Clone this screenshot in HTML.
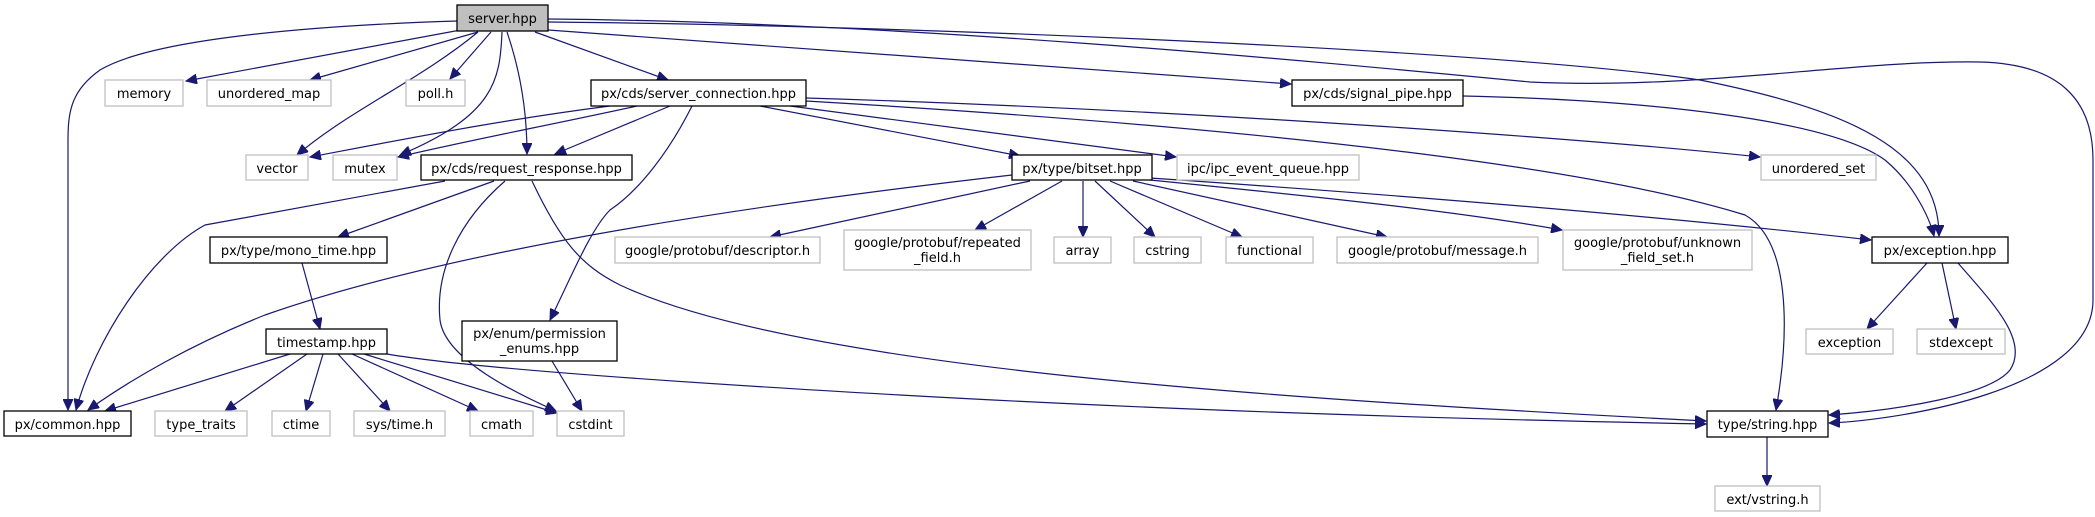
<!DOCTYPE html>
<html><head><meta charset="utf-8"><style>
html,body{margin:0;padding:0;background:#fff;}
svg{display:block;}
text{font-family:"DejaVu Sans","Liberation Sans",sans-serif;font-size:13px;fill:#000;}
.b{fill:#fff;stroke:#000;stroke-width:1.3;}
.g{fill:#fff;stroke:#bfbfbf;stroke-width:1.3;}
.e{fill:none;stroke:#191970;stroke-width:1.2;marker-end:url(#a);}
</style></head><body>
<svg width="2095" height="517" viewBox="0 0 2095 517" xmlns="http://www.w3.org/2000/svg">
<defs><marker id="a" markerUnits="userSpaceOnUse" markerWidth="12" markerHeight="10" refX="11" refY="5" orient="auto"><path d="M0,0 L11,5 L0,10 z" fill="#191970" stroke="#191970"/></marker></defs>
<g>
<path class="e" d="M457,21 C300,26 150,40 100,70 C72,90 68,110 68,140 L68,410"/>
<path class="e" d="M466,29 L186,81"/>
<path class="e" d="M478,32 L310,80"/>
<path class="e" d="M478,32 C420,80 350,110 297,155"/>
<path class="e" d="M491,32 L450,79"/>
<path class="e" d="M502,32 C500,80 495,115 400,155"/>
<path class="e" d="M507,32 C520,70 527,110 527,154"/>
<path class="e" d="M535,32 L668,80"/>
<path class="e" d="M548,30 L1291,84"/>
<path class="e" d="M548,22 C900,25 1500,50 1700,80 C1850,110 1939,150 1939,236"/>
<path class="e" d="M548,19 C900,22 1300,60 1530,82 C1700,90 1850,60 1980,62 C2060,64 2093,100 2093,160 L2093,300 C2093,390 1900,420 1829,423"/>
<path class="e" d="M1463,96 C1650,100 1830,120 1885,160 C1915,185 1930,220 1934,236"/>
<path class="e" d="M610,106 C500,120 400,140 310,157"/>
<path class="e" d="M637,106 C550,125 470,140 398,157"/>
<path class="e" d="M670,106 L555,154"/>
<path class="e" d="M692,106 C670,150 640,190 610,210 C590,230 570,280 550,320"/>
<path class="e" d="M760,106 L1020,156"/>
<path class="e" d="M790,106 L1176,157"/>
<path class="e" d="M806,98 C1200,110 1600,140 1760,157"/>
<path class="e" d="M806,101 C1300,130 1600,170 1745,215 C1790,240 1790,330 1776,410"/>
<path class="e" d="M445,181 L205,225 C150,255 95,340 76,410"/>
<path class="e" d="M494,181 L338,237"/>
<path class="e" d="M505,181 C460,220 435,270 440,320 C445,360 520,395 556,411"/>
<path class="e" d="M532,181 C560,240 580,265 620,285 C800,370 1300,400 1706,421"/>
<path class="e" d="M1012,175 C750,205 450,250 265,315 C190,345 130,380 88,410"/>
<path class="e" d="M1030,181 L770,237"/>
<path class="e" d="M1062,181 L975,230"/>
<path class="e" d="M1083,181 L1083,237"/>
<path class="e" d="M1095,181 L1155,237"/>
<path class="e" d="M1110,181 L1242,237"/>
<path class="e" d="M1133,181 L1387,237"/>
<path class="e" d="M1150,180 C1300,195 1450,210 1562,230"/>
<path class="e" d="M1150,178 C1400,195 1650,215 1871,240"/>
<path class="e" d="M1927,263 L1867,329"/>
<path class="e" d="M1942,263 L1956,329"/>
<path class="e" d="M1958,263 C1990,300 2030,340 2010,370 C1990,395 1900,410 1829,415"/>
<path class="e" d="M1767,437 L1767,486"/>
<path class="e" d="M302,263 L320,329"/>
<path class="e" d="M290,354 L105,411"/>
<path class="e" d="M307,354 L225,411"/>
<path class="e" d="M323,354 L306,411"/>
<path class="e" d="M338,354 L390,411"/>
<path class="e" d="M352,354 L478,411"/>
<path class="e" d="M364,354 L557,413"/>
<path class="e" d="M387,354 C450,365 600,378 900,395 C1200,412 1500,420 1706,424"/>
<path class="e" d="M552,361 L582,411"/>
</g>
<g>
<rect x="457" y="5" width="91" height="26" fill="#bfbfbf" stroke="#000" stroke-width="1.3"/><text x="502.5" y="23" text-anchor="middle">server.hpp</text>
<rect class="g" x="105" y="80" width="78" height="26"/><text x="144" y="98" text-anchor="middle">memory</text>
<rect class="g" x="207" y="80" width="124" height="26"/><text x="269" y="98" text-anchor="middle">unordered_map</text>
<rect class="g" x="406" y="80" width="59" height="26"/><text x="435.5" y="98" text-anchor="middle">poll.h</text>
<rect class="b" x="591" y="80" width="215" height="26"/><text x="698.5" y="98" text-anchor="middle">px/cds/server_connection.hpp</text>
<rect class="b" x="1292" y="80" width="171" height="26"/><text x="1377.5" y="98" text-anchor="middle">px/cds/signal_pipe.hpp</text>
<rect class="g" x="246" y="155" width="62" height="25"/><text x="277" y="173" text-anchor="middle">vector</text>
<rect class="g" x="333" y="155" width="64" height="25"/><text x="365" y="173" text-anchor="middle">mutex</text>
<rect class="b" x="421" y="155" width="211" height="25"/><text x="526.5" y="173" text-anchor="middle">px/cds/request_response.hpp</text>
<rect class="b" x="1012" y="155" width="140" height="25"/><text x="1082" y="173" text-anchor="middle">px/type/bitset.hpp</text>
<rect class="g" x="1177" y="155" width="182" height="25"/><text x="1268" y="173" text-anchor="middle">ipc/ipc_event_queue.hpp</text>
<rect class="g" x="1761" y="155" width="115" height="25"/><text x="1818.5" y="173" text-anchor="middle">unordered_set</text>
<rect class="b" x="210" y="237" width="177" height="26"/><text x="298.5" y="255" text-anchor="middle">px/type/mono_time.hpp</text>
<rect class="g" x="615" y="237" width="205" height="26"/><text x="717.5" y="255" text-anchor="middle">google/protobuf/descriptor.h</text>
<rect class="g" x="844" y="230" width="187" height="40"/><text x="937.5" y="247" text-anchor="middle">google/protobuf/repeated</text><text x="937.5" y="262" text-anchor="middle">_field.h</text>
<rect class="g" x="1054" y="237" width="57" height="26"/><text x="1082.5" y="255" text-anchor="middle">array</text>
<rect class="g" x="1134" y="237" width="67" height="26"/><text x="1167.5" y="255" text-anchor="middle">cstring</text>
<rect class="g" x="1226" y="237" width="87" height="26"/><text x="1269.5" y="255" text-anchor="middle">functional</text>
<rect class="g" x="1337" y="237" width="201" height="26"/><text x="1437.5" y="255" text-anchor="middle">google/protobuf/message.h</text>
<rect class="g" x="1563" y="230" width="189" height="40"/><text x="1657.5" y="247" text-anchor="middle">google/protobuf/unknown</text><text x="1657.5" y="262" text-anchor="middle">_field_set.h</text>
<rect class="b" x="1872" y="237" width="136" height="26"/><text x="1940" y="255" text-anchor="middle">px/exception.hpp</text>
<rect class="b" x="266" y="329" width="121" height="25"/><text x="326.5" y="347" text-anchor="middle">timestamp.hpp</text>
<rect class="b" x="462" y="321" width="155" height="40"/><text x="539.5" y="338" text-anchor="middle">px/enum/permission</text><text x="539.5" y="353" text-anchor="middle">_enums.hpp</text>
<rect class="g" x="1806" y="329" width="87" height="25"/><text x="1849.5" y="347" text-anchor="middle">exception</text>
<rect class="g" x="1917" y="329" width="88" height="25"/><text x="1961" y="347" text-anchor="middle">stdexcept</text>
<rect class="b" x="4" y="411" width="127" height="25"/><text x="67.5" y="429" text-anchor="middle">px/common.hpp</text>
<rect class="g" x="155" y="411" width="92" height="25"/><text x="201" y="429" text-anchor="middle">type_traits</text>
<rect class="g" x="272" y="411" width="58" height="25"/><text x="301" y="429" text-anchor="middle">ctime</text>
<rect class="g" x="354" y="411" width="91" height="25"/><text x="399.5" y="429" text-anchor="middle">sys/time.h</text>
<rect class="g" x="470" y="411" width="63" height="25"/><text x="501.5" y="429" text-anchor="middle">cmath</text>
<rect class="g" x="557" y="411" width="67" height="25"/><text x="590.5" y="429" text-anchor="middle">cstdint</text>
<rect class="b" x="1707" y="411" width="121" height="26"/><text x="1767.5" y="429" text-anchor="middle">type/string.hpp</text>
<rect class="g" x="1715" y="486" width="105" height="25"/><text x="1767.5" y="504" text-anchor="middle">ext/vstring.h</text>
</g>
</svg>
</body></html>
